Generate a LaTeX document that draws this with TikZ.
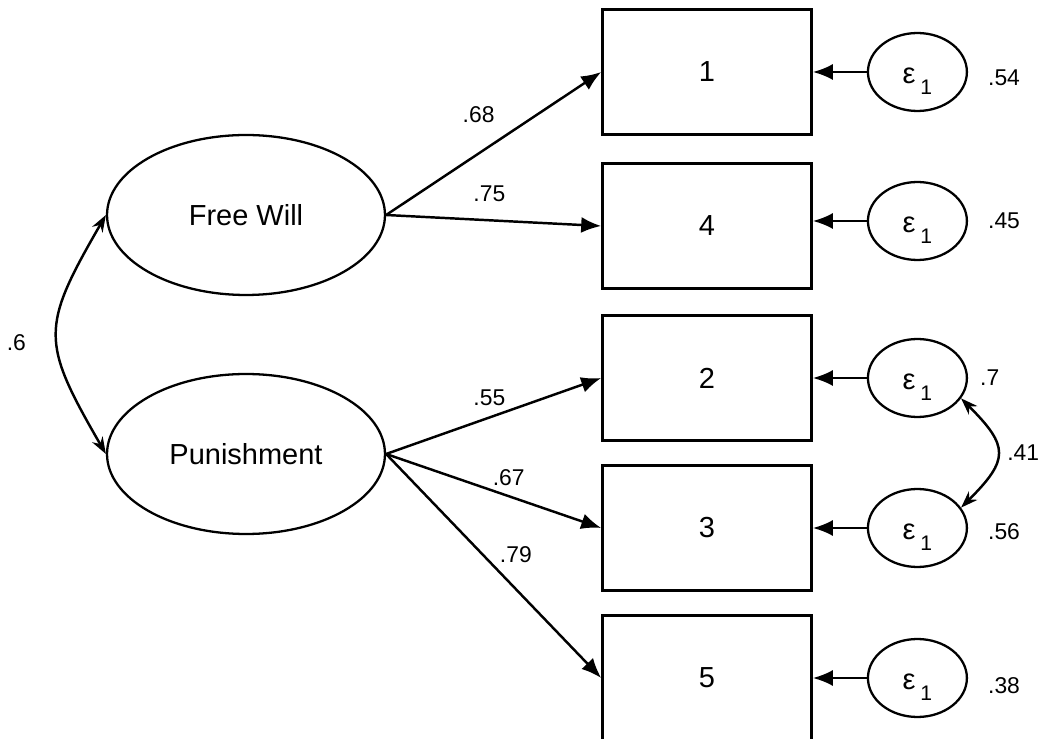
\documentclass[tikz,border=0pt]{standalone}
\usepackage{fontspec}
\setmainfont{Liberation Sans}
\usepackage{tikz}
\usetikzlibrary{positioning,shapes.geometric}
\usetikzlibrary{arrows.meta}

\newcommand{\errlab}{ε\,\raisebox{-0.22cm}{\fontsize{12}{14}\selectfont 1}}

\tikzset{
	latent/.style = {draw, ellipse, line width=1.3pt, minimum width=5.56cm, minimum height=3.2cm, font=\fontsize{16.5}{19}\selectfont},
	indic/.style = {draw, rectangle, line width=1.5pt, minimum width=4.18cm, minimum height=2.5cm, font=\fontsize{16.5}{19}\selectfont},
	err/.style = {draw, ellipse, line width=1.3pt, inner sep=0pt, minimum width=1.98cm, minimum height=1.56cm, text height=12.8pt, text depth=0pt, font=\fontsize{16.5}{19}\selectfont},
	coef/.style = {font=\fontsize{13}{15}\selectfont, inner sep=1pt},
	load/.style = {-{Latex[length=0.4cm,width=0.32cm]}, line width=1.4pt},
	cov/.style = {{Stealth[length=0.34cm,width=0.24cm]}-{Stealth[length=0.34cm,width=0.24cm]}, line width=1.4pt}
}

\begin{document}
\begin{tikzpicture}[x=0.02cm, y=0.02cm]
	\useasboundingbox (0,0) rectangle (1038,-739);

	\node[latent] (fw) at (246,-215) {Free Will};
	\node[latent] (pun) at (246,-454) {Punishment};

	\begin{scope}[every node/.style={indic}]
	    \node (b1) at (707,-72) {1};
	    \node (b4) at (707,-226) {4};
	    \node (b2) at (707,-378) {2};
	    \node (b3) at (707,-528) {3};
	    \node (b5) at (707,-678) {5};
	\end{scope}

	\begin{scope}[every node/.style={err}, node distance = 1.08cm]
	    \node[right = of b1] (e1) {\errlab};
	    \node[right = of b4, yshift=0.1cm] (e4) {\errlab};
	    \node[right = of b2] (e2) {\errlab};
	    \node[right = of b3] (e3) {\errlab};
	    \node[right = of b5] (e5) {\errlab};
	\end{scope}

	\begin{scope}[every node/.style={coef}]
	    \node[right = 0.36cm of e1, yshift=-0.12cm] (v1) {.54};
	    \node[right = 0.36cm of e4] (v4) {.45};
	    \node[right = 0.2cm of e2] (v2) {.7};
	    \node[right = 0.36cm of e3, yshift=-0.08cm] (v3) {.56};
	    \node[right = 0.36cm of e5, yshift=-0.16cm] (v5) {.38};
	\end{scope}

	\path [load] (fw.east) edge node [coef, pos=0.43, above=16pt] {.68} (b1.west);
	\path [load] (fw.east) edge node [coef, pos=0.48, above=9pt] {.75} (b4.west);
	\path [load] (pun.east) edge node [coef, pos=0.48, above=5pt] {.55} (b2.west);
	\path [load] (pun.east) edge node [coef, pos=0.57, above=4pt] {.67} (b3.west);
	\path [load] (pun.east) edge node [coef, pos=0.45, right=8pt] {.79} (b5.west);

	\foreach \i in {1,4,2,3,5}
	    \draw [load] (e\i.west) -- (e\i.west -| b\i.east);

	\draw [cov] (fw.west) to[out=240, in=120, looseness=1.4] node [coef, left=16pt, yshift=-0.16cm] {.6} (pun.west);
	\draw [cov] (e2.-25) to[out=-45, in=45, looseness=1.6] node [coef, right=4pt] {.41} (e3.25);

\end{tikzpicture}
\end{document}
